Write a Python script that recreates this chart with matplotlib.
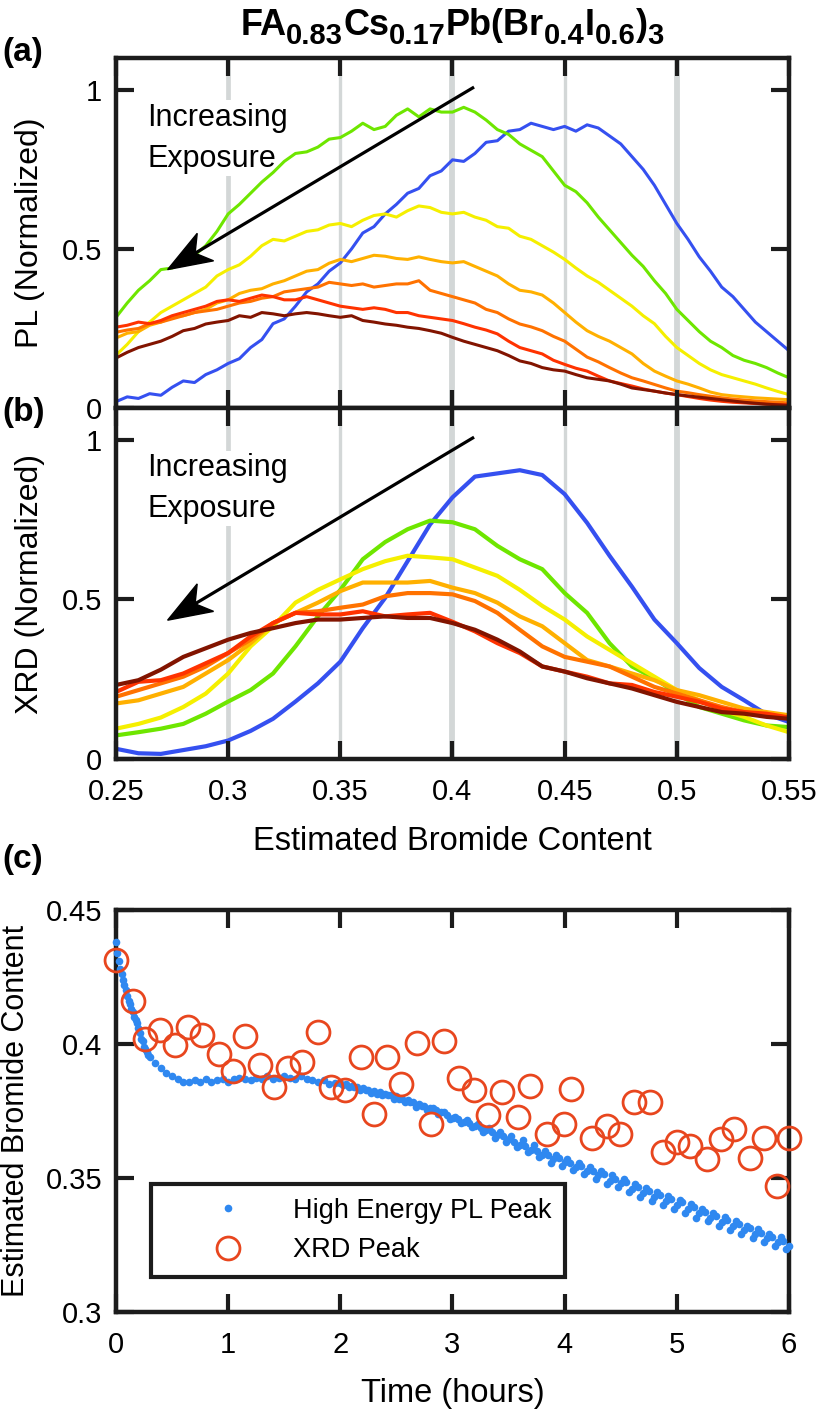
import numpy as np
import matplotlib
matplotlib.use("Agg")
import matplotlib.pyplot as plt
from matplotlib.lines import Line2D
from matplotlib.patches import Polygon
from matplotlib.transforms import IdentityTransform

plt.rcParams['font.family'] = ['Liberation Sans', 'DejaVu Sans']

# ---------------- data ----------------
# (a) PL spectra, bromide content grid 0.25 .. 0.55 (step 0.005)
br_pl = np.linspace(0.25, 0.55, 61)
pl_blue = [0.02, 0.035, 0.03, 0.045, 0.04, 0.065, 0.085, 0.08, 0.105, 0.12, 0.14, 0.155,
           0.19, 0.215, 0.265, 0.28, 0.32, 0.365, 0.39, 0.43, 0.456, 0.50, 0.55, 0.57,
           0.61, 0.64, 0.675, 0.69, 0.73, 0.745, 0.78, 0.775, 0.80, 0.835, 0.84, 0.87,
           0.875, 0.895, 0.885, 0.875, 0.885, 0.87, 0.89, 0.88, 0.855, 0.83, 0.79, 0.75,
           0.70, 0.64, 0.58, 0.53, 0.475, 0.43, 0.38, 0.35, 0.31, 0.27, 0.24, 0.21, 0.18]
pl_green = [0.285, 0.33, 0.37, 0.40, 0.435, 0.44, 0.456, 0.48, 0.51, 0.555, 0.61, 0.64,
            0.675, 0.71, 0.74, 0.775, 0.80, 0.805, 0.82, 0.845, 0.85, 0.87, 0.895, 0.875,
            0.885, 0.92, 0.94, 0.915, 0.94, 0.93, 0.93, 0.945, 0.93, 0.905, 0.875, 0.86,
            0.83, 0.81, 0.79, 0.745, 0.70, 0.68, 0.645, 0.60, 0.56, 0.52, 0.48, 0.445,
            0.40, 0.36, 0.31, 0.275, 0.24, 0.21, 0.19, 0.165, 0.15, 0.14, 0.127, 0.11, 0.095]
pl_yellow = [0.166, 0.20, 0.24, 0.27, 0.30, 0.32, 0.34, 0.36, 0.38, 0.415, 0.435, 0.45,
             0.477, 0.51, 0.53, 0.525, 0.54, 0.555, 0.56, 0.575, 0.58, 0.57, 0.59, 0.605,
             0.61, 0.60, 0.62, 0.635, 0.63, 0.615, 0.61, 0.615, 0.60, 0.59, 0.57, 0.565,
             0.54, 0.53, 0.51, 0.49, 0.467, 0.44, 0.415, 0.395, 0.37, 0.345, 0.32, 0.29,
             0.265, 0.225, 0.19, 0.165, 0.14, 0.12, 0.105, 0.095, 0.085, 0.075, 0.063, 0.052, 0.042]
pl_lorange = [0.22, 0.235, 0.24, 0.26, 0.27, 0.285, 0.29, 0.30, 0.31, 0.33, 0.34, 0.36,
              0.37, 0.375, 0.39, 0.40, 0.415, 0.43, 0.435, 0.455, 0.467, 0.46, 0.47, 0.48,
              0.477, 0.47, 0.467, 0.475, 0.467, 0.46, 0.456, 0.46, 0.445, 0.43, 0.415, 0.39,
              0.37, 0.365, 0.355, 0.33, 0.30, 0.27, 0.243, 0.225, 0.21, 0.19, 0.17, 0.14,
              0.116, 0.10, 0.085, 0.075, 0.063, 0.05, 0.042, 0.038, 0.035, 0.032, 0.03, 0.028, 0.026]
pl_orange = [0.238, 0.245, 0.25, 0.265, 0.27, 0.28, 0.29, 0.30, 0.305, 0.31, 0.32, 0.33,
             0.335, 0.345, 0.35, 0.365, 0.37, 0.375, 0.38, 0.395, 0.39, 0.385, 0.39, 0.38,
             0.385, 0.39, 0.39, 0.40, 0.37, 0.36, 0.35, 0.34, 0.33, 0.31, 0.30, 0.28,
             0.264, 0.255, 0.243, 0.225, 0.21, 0.185, 0.16, 0.145, 0.127, 0.11, 0.095, 0.085,
             0.074, 0.063, 0.053, 0.048, 0.042, 0.037, 0.032, 0.028, 0.025, 0.022, 0.02, 0.018, 0.016]
pl_red = [0.254, 0.26, 0.27, 0.265, 0.275, 0.29, 0.30, 0.31, 0.32, 0.335, 0.34, 0.335,
          0.345, 0.355, 0.35, 0.34, 0.34, 0.35, 0.34, 0.33, 0.32, 0.315, 0.31, 0.315,
          0.31, 0.30, 0.30, 0.29, 0.285, 0.28, 0.275, 0.265, 0.254, 0.245, 0.233, 0.21,
          0.19, 0.18, 0.17, 0.15, 0.137, 0.125, 0.116, 0.10, 0.085, 0.077, 0.069, 0.06,
          0.053, 0.047, 0.042, 0.036, 0.03, 0.025, 0.021, 0.018, 0.016, 0.014, 0.012, 0.011, 0.01]
pl_dred = [0.157, 0.175, 0.19, 0.20, 0.21, 0.225, 0.243, 0.25, 0.264, 0.27, 0.275, 0.29,
           0.285, 0.30, 0.296, 0.29, 0.296, 0.30, 0.296, 0.29, 0.285, 0.29, 0.275, 0.27,
           0.264, 0.26, 0.254, 0.25, 0.243, 0.235, 0.222, 0.21, 0.20, 0.19, 0.18, 0.165,
           0.148, 0.14, 0.127, 0.12, 0.116, 0.105, 0.095, 0.09, 0.085, 0.075, 0.063, 0.058,
           0.053, 0.047, 0.042, 0.038, 0.034, 0.03, 0.026, 0.022, 0.018, 0.015, 0.012, 0.01, 0.008]

# (b) XRD profiles, grid 0.25 .. 0.55 (step 0.01)
br_xrd = np.linspace(0.25, 0.55, 31)
xrd_blue = [0.032, 0.018, 0.016, 0.028, 0.04, 0.058, 0.088, 0.126, 0.18, 0.237, 0.305,
            0.41, 0.505, 0.62, 0.735, 0.82, 0.885, 0.895, 0.905, 0.89, 0.83, 0.74, 0.637,
            0.54, 0.437, 0.363, 0.285, 0.226, 0.184, 0.14, 0.116]
xrd_green = [0.074, 0.084, 0.095, 0.11, 0.142, 0.18, 0.216, 0.268, 0.353, 0.447, 0.53,
             0.626, 0.68, 0.72, 0.747, 0.742, 0.72, 0.668, 0.626, 0.595, 0.52, 0.458, 0.363,
             0.29, 0.253, 0.205, 0.163, 0.142, 0.121, 0.105, 0.10]
xrd_yellow = [0.095, 0.11, 0.13, 0.163, 0.205, 0.268, 0.353, 0.416, 0.49, 0.53, 0.563,
              0.595, 0.62, 0.637, 0.632, 0.626, 0.60, 0.574, 0.53, 0.48, 0.437, 0.384, 0.342,
              0.30, 0.258, 0.216, 0.184, 0.153, 0.132, 0.105, 0.084]
xrd_lorange = [0.174, 0.184, 0.205, 0.226, 0.268, 0.31, 0.363, 0.426, 0.458, 0.49, 0.526,
               0.553, 0.553, 0.553, 0.558, 0.537, 0.52, 0.49, 0.447, 0.416, 0.363, 0.31, 0.29,
               0.268, 0.247, 0.216, 0.20, 0.179, 0.158, 0.147, 0.137]
xrd_orange = [0.195, 0.216, 0.237, 0.258, 0.29, 0.332, 0.374, 0.426, 0.458, 0.463, 0.474,
              0.484, 0.51, 0.52, 0.52, 0.516, 0.495, 0.458, 0.405, 0.353, 0.32, 0.305, 0.29,
              0.258, 0.226, 0.205, 0.184, 0.163, 0.147, 0.137, 0.13]
xrd_red = [0.21, 0.242, 0.247, 0.268, 0.30, 0.332, 0.384, 0.426, 0.458, 0.453, 0.453,
           0.463, 0.447, 0.453, 0.458, 0.43, 0.40, 0.363, 0.332, 0.29, 0.274, 0.258, 0.237,
           0.232, 0.21, 0.195, 0.179, 0.158, 0.147, 0.142, 0.13]
xrd_dred = [0.232, 0.247, 0.28, 0.32, 0.347, 0.374, 0.395, 0.41, 0.426, 0.437, 0.437,
            0.442, 0.447, 0.442, 0.442, 0.426, 0.405, 0.374, 0.337, 0.29, 0.274, 0.253, 0.237,
            0.221, 0.20, 0.179, 0.163, 0.147, 0.142, 0.132, 0.126]

curve_colors = ['#3550f0', '#6ee600', '#f5ef00', '#ffb000', '#ff7200', '#ff3300', '#821400']
pl_curves = [pl_blue, pl_green, pl_yellow, pl_lorange, pl_orange, pl_red, pl_dred]
xrd_curves = [xrd_blue, xrd_green, xrd_yellow, xrd_lorange, xrd_orange, xrd_red, xrd_dred]
grid_br = [0.3, 0.35, 0.4, 0.45, 0.5]
grid_lw = [3.4, 2.4, 4.2, 2.4, 4.2]

# (c) peak positions vs time
t_pl = np.concatenate([np.linspace(0, 0.3, 25), np.linspace(0.35, 6.0, 114)])
pl_peak = [0.438, 0.434, 0.431, 0.428, 0.426, 0.424, 0.422, 0.42, 0.418, 0.416, 0.415, 0.413,
           0.412, 0.41, 0.409, 0.408, 0.406, 0.404, 0.402, 0.401, 0.399, 0.398, 0.397, 0.396, 0.395,
           0.393, 0.391, 0.389, 0.388, 0.387, 0.386, 0.386, 0.3865, 0.386, 0.387, 0.386, 0.3865,
           0.387, 0.386, 0.387, 0.3875, 0.387, 0.3865, 0.3875, 0.387, 0.388, 0.387, 0.3875, 0.388,
           0.3875, 0.387, 0.388, 0.387, 0.3865, 0.386, 0.3865, 0.385, 0.3855,
           0.3855, 0.385, 0.3845, 0.384, 0.3835, 0.383, 0.3825, 0.382, 0.3815, 0.381, 0.3805,
           0.3795, 0.379, 0.3785, 0.3775, 0.377, 0.376, 0.3755, 0.3745, 0.3735, 0.3725, 0.372,
           0.371, 0.3705, 0.3695, 0.3685, 0.368, 0.367, 0.366, 0.3655, 0.3645, 0.3635, 0.3625,
           0.362, 0.3605, 0.36, 0.3585, 0.3585, 0.357, 0.3575, 0.356, 0.3555, 0.354, 0.3545,
           0.3525, 0.3525, 0.351, 0.3515, 0.349, 0.3495, 0.348, 0.3485, 0.346, 0.3465, 0.3445,
           0.345, 0.343, 0.3435, 0.3415, 0.342, 0.340, 0.341, 0.3385, 0.339, 0.337, 0.3375,
           0.335, 0.336, 0.3335, 0.3345, 0.332, 0.333, 0.3305, 0.3315, 0.329, 0.3295, 0.3275,
           0.328, 0.326, 0.3265, 0.3245]
# extra interleaved PL readings (the band widens after ~2 h)
t_pl2 = np.linspace(2.025, 5.975, 80)
pl_peak2 = [0.3848, 0.3840, 0.3838, 0.3830, 0.3828, 0.3818, 0.3815, 0.3808, 0.3808, 0.3795,
            0.3795, 0.3782, 0.3785, 0.3765, 0.3768, 0.3752, 0.3762, 0.3738, 0.3745, 0.3722,
            0.3728, 0.3705, 0.3715, 0.3690, 0.3700, 0.3670, 0.3688, 0.3650, 0.3672, 0.3635,
            0.3655, 0.3615, 0.3640, 0.3598, 0.3622, 0.3578, 0.3600, 0.3555, 0.3585, 0.3545,
            0.3570, 0.3528, 0.3555, 0.3515, 0.3540, 0.3495, 0.3525, 0.3478, 0.3510, 0.3465,
            0.3495, 0.3448, 0.3478, 0.3430, 0.3462, 0.3415, 0.3448, 0.3400, 0.3432, 0.3385,
            0.3418, 0.3368, 0.3402, 0.3352, 0.3385, 0.3338, 0.3370, 0.3322, 0.3355, 0.3305,
            0.3340, 0.3290, 0.3322, 0.3275, 0.3308, 0.3260, 0.3292, 0.3245, 0.3278, 0.3235]
t_xrd = [0.0, 0.15, 0.26, 0.39, 0.53, 0.645, 0.77, 0.92, 1.04, 1.15, 1.28, 1.41, 1.53, 1.66,
         1.80, 1.92, 2.04, 2.18, 2.30, 2.42, 2.54, 2.68, 2.81, 2.92, 3.06, 3.19, 3.32, 3.44,
         3.58, 3.69, 3.84, 3.99, 4.06, 4.24, 4.38, 4.49, 4.62, 4.76, 4.88, 5.0, 5.12, 5.27,
         5.39, 5.51, 5.65, 5.78, 5.89, 6.0]
xrd_peak = [0.4315, 0.416, 0.4018, 0.4053, 0.3998, 0.4062, 0.4033, 0.3963, 0.390, 0.4031,
            0.3922, 0.384, 0.391, 0.3932, 0.4043, 0.384, 0.3827, 0.395, 0.374, 0.395, 0.3852,
            0.4002, 0.370, 0.4012, 0.3873, 0.3827, 0.3735, 0.382, 0.3728, 0.3842, 0.3664,
            0.370, 0.3833, 0.3651, 0.3695, 0.3664, 0.3785, 0.3785, 0.3596, 0.3633, 0.362,
            0.3571, 0.3645, 0.3682, 0.3574, 0.3651, 0.3471, 0.3651]

# ---------------- figure ----------------
W, H = 816, 1411
fig = plt.figure(figsize=(W / 100, H / 100), dpi=100)
INK = '#1c1c1c'


def px_axes(left, top, right, bottom):
    return fig.add_axes([left / W, 1 - bottom / H, (right - left) / W, (bottom - top) / H])


def style(ax):
    for s in ax.spines.values():
        s.set_linewidth(3.2)
        s.set_color(INK)
    ax.set_axisbelow(False)
    ax.tick_params(direction='in', length=13, width=3, top=True, right=True,
                   labelsize=21, color=INK)
    ax.tick_params(axis='x', pad=14)
    ax.tick_params(axis='y', pad=10)


def arrow(ax, tail, tip, head_len=44, head_w=32, back=12, lw=2.3):
    # straight line with a notched, filled head (drawn in pixel space)
    p0 = ax.transData.transform(tail)
    p1 = ax.transData.transform(tip)
    d = p1 - p0
    u = d / np.hypot(*d)
    n = np.array([-u[1], u[0]])
    base = p1 - u * head_len
    notch = p1 - u * (head_len - back)
    ax.add_line(Line2D([p0[0], notch[0]], [p0[1], notch[1]], color='black', lw=lw,
                       transform=IdentityTransform(), zorder=4))
    ax.add_patch(Polygon([p1, base + n * head_w / 2, notch, base - n * head_w / 2],
                         closed=True, color='black', transform=IdentityTransform(), zorder=4))


ax_a = px_axes(116, 58, 789, 408)
ax_b = px_axes(116, 408, 789, 759)
ax_c = px_axes(116, 910, 789, 1312)

for ax, curves, x, lw in [(ax_a, pl_curves, br_pl, 2.2), (ax_b, xrd_curves, br_xrd, 3.0)]:
    style(ax)
    for g, glw in zip(grid_br, grid_lw):
        ax.axvline(g, color='#d3d7d7', lw=glw, zorder=0.5)
    for y, c in zip(curves, curve_colors):
        ax.plot(x, y, color=c, lw=lw, zorder=2)
    ax.set_xlim(0.25, 0.55)
    ax.set_ylim(0, 1.1)
    ax.set_yticks([0, 0.5, 1])
    ax.set_yticklabels(['0', '0.5', '1'])
    ax.set_xticks([0.25, 0.3, 0.35, 0.4, 0.45, 0.5, 0.55])
    ax.text(0.264, 0.958, 'Increasing\nExposure', fontsize=22, va='top', ha='left',
            linespacing=1.45, zorder=1,
            bbox=dict(facecolor='white', edgecolor='none', pad=2))
    arrow(ax, (0.409, 1.006), (0.273, 0.435))

ax_a.tick_params(labelbottom=False)
ax_b.set_xticklabels(['0.25', '0.3', '0.35', '0.4', '0.45', '0.5', '0.55'])
ax_a.set_ylabel('PL (Normalized)', fontsize=23)
ax_b.set_ylabel('XRD (Normalized)', fontsize=23)
ax_a.yaxis.set_label_coords(-0.105, 0.5)
ax_b.yaxis.set_label_coords(-0.105, 0.5)
ax_b.set_xlabel('Estimated Bromide Content', fontsize=23.5)
ax_b.xaxis.set_label_coords(0.5, -0.19)

# panel (c)
style(ax_c)
ax_c.plot(t_pl, pl_peak, 'o', ms=5.5, color='#2f88f0', mec='none', clip_on=False,
          label='High Energy PL Peak', zorder=3)
ax_c.plot(t_pl2, pl_peak2, 'o', ms=5.5, color='#2f88f0', mec='none', clip_on=False, zorder=3)
ax_c.plot(t_xrd, xrd_peak, 'o', ms=16.5, mfc='none', mec='#e8461e', mew=2.0,
          clip_on=False, label='XRD Peak', zorder=3)
ax_c.set_xlim(0, 6)
ax_c.set_ylim(0.3, 0.45)
ax_c.set_xticks(range(7))
ax_c.set_yticks([0.3, 0.35, 0.4, 0.45])
ax_c.set_yticklabels(['0.3', '0.35', '0.4', '0.45'])
ax_c.set_xlabel('Time (hours)', fontsize=23.5)
ax_c.xaxis.set_label_coords(0.5, -0.165)
ax_c.set_ylabel('Estimated Bromide Content', fontsize=22)
ax_c.yaxis.set_label_coords(-0.126, 0.5)
leg = ax_c.legend(loc='center', bbox_to_anchor=(0.052, 0.087, 0.615, 0.232), mode='expand',
                  borderaxespad=0, fontsize=19.5, fancybox=False, framealpha=1,
                  edgecolor=INK, handlelength=4.65, handletextpad=0.1, borderpad=0.5,
                  labelspacing=0.5)
leg.get_frame().set_linewidth(3)

# panel labels
for lbl, yc in [('(a)', 52), ('(b)', 412), ('(c)', 860)]:
    fig.text(2 / W, 1 - yc / H, lbl, fontsize=24, fontweight='bold', ha='left', va='center')

# title with subscripts, laid out piece by piece
pieces = [('FA', False), ('0.83', True), ('Cs', False), ('0.17', True), ('Pb(Br', False),
          ('0.4', True), ('I', False), ('0.6', True), (')', False), ('3', True)]
renderer = fig.canvas.get_renderer()
texts = []
for s, sub in pieces:
    t = fig.text(0, 0, s, fontsize=21 if sub else 26, fontweight='bold',
                 transform=IdentityTransform(), ha='left', va='baseline')
    texts.append((t, sub, t.get_window_extent(renderer).width))
x0 = 452 - sum(w for _, _, w in texts) / 2
baseline = H - 35
for t, sub, w in texts:
    t.set_position((x0, baseline - (9 if sub else 0)))
    x0 += w

fig.savefig('out.png', dpi=100)
